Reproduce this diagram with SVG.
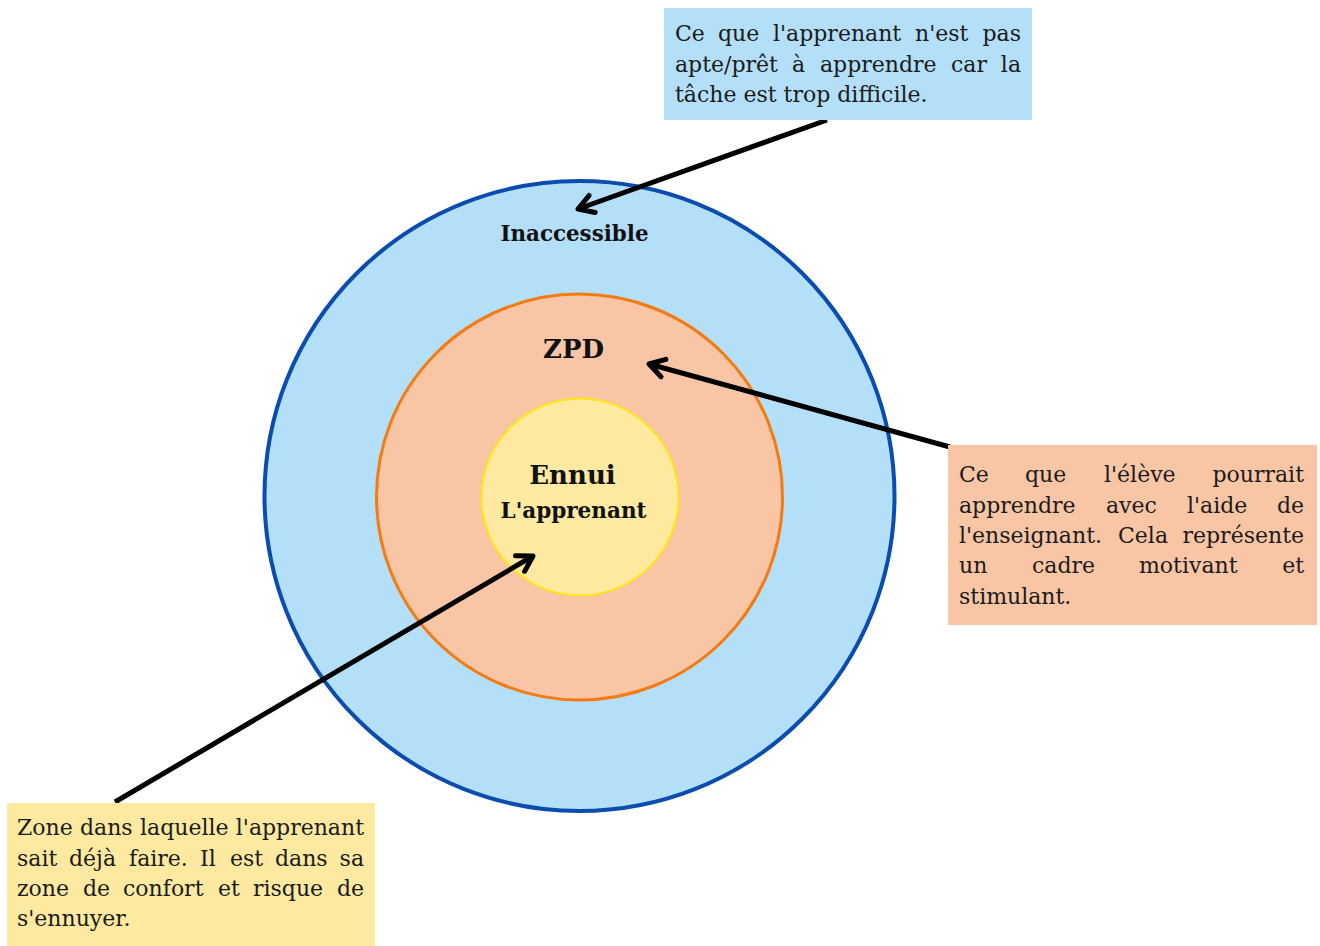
<svg xmlns="http://www.w3.org/2000/svg" width="1320" height="946" viewBox="0 0 1320 946">
<defs>
<style>
.body{font-family:"DejaVu Serif","Liberation Serif",serif;font-size:22px;fill:#1b1b1b}
.end{text-anchor:end}
.lbl{font-family:"DejaVu Serif","Liberation Serif",serif;font-weight:bold;fill:#111;text-anchor:middle}
.conn{stroke:#000;stroke-width:5;fill:none;marker-end:url(#chev)}
</style>
<marker id="chev" viewBox="-22 -14 28 28" refX="0" refY="0" markerWidth="28" markerHeight="28" markerUnits="userSpaceOnUse" orient="auto">
<path d="M-15,-9 L0,0 L-15,9" fill="none" stroke="#000" stroke-width="5" stroke-linecap="round" stroke-linejoin="round"/>
</marker>
</defs>
<rect width="1320" height="946" fill="#ffffff"/>

<g id="inaccessible">
<circle cx="579.5" cy="496" r="315" fill="#b3dff8" stroke="#0a4dae" stroke-width="4"/>
<text class="lbl" x="574.5" y="241" font-size="22" textLength="148" lengthAdjust="spacingAndGlyphs">Inaccessible</text>
</g>
<g id="zpd">
<circle cx="579.5" cy="497" r="203" fill="#f8c5a5" stroke="#f57a12" stroke-width="3"/>
<text class="lbl" x="573.5" y="358" font-size="26">ZPD</text>
</g>
<g id="ennui">
<circle cx="580" cy="497" r="98.5" fill="#fde9a0" stroke="#fbe80f" stroke-width="2"/>
<text class="lbl" x="572.5" y="484" font-size="26">Ennui</text>
<text class="lbl" x="573.5" y="518" font-size="22" textLength="146" lengthAdjust="spacingAndGlyphs">L'apprenant</text>
</g>

<g id="connectors">
<line class="conn" x1="827" y1="120" x2="578" y2="209"/>
<line class="conn" x1="950" y1="447" x2="649" y2="364"/>
<line class="conn" x1="115" y1="802" x2="533" y2="556"/>
</g>

<g id="note-inaccessible">
<rect x="664" y="8" width="368" height="112" fill="#b3dff8"/>
<text class="body" y="41"><tspan x="675">Ce</tspan><tspan x="718">que</tspan><tspan x="773">l'apprenant</tspan><tspan x="915">n'est</tspan></text>
<text class="body end" x="1021" y="41">pas</text>
<text class="body" y="72"><tspan x="675">apte/prêt</tspan><tspan x="792">à</tspan><tspan x="820">apprendre</tspan><tspan x="951">car</tspan></text>
<text class="body end" x="1021" y="72">la</text>
<text class="body" x="675" y="102">tâche est trop difficile.</text>
</g>

<g id="note-zpd">
<rect x="948" y="445" width="369" height="180" fill="#f8c5a5"/>
<text class="body" y="482"><tspan x="959">Ce</tspan><tspan x="1025">que</tspan><tspan x="1104">l'élève</tspan></text>
<text class="body end" x="1304" y="482">pourrait</text>
<text class="body" y="513"><tspan x="959">apprendre</tspan><tspan x="1106">avec</tspan><tspan x="1187">l'aide</tspan></text>
<text class="body end" x="1304" y="513">de</text>
<text class="body" y="543"><tspan x="959">l'enseignant.</tspan><tspan x="1118">Cela</tspan></text>
<text class="body end" x="1304" y="543">représente</text>
<text class="body" y="573"><tspan x="959">un</tspan><tspan x="1032">cadre</tspan><tspan x="1139">motivant</tspan></text>
<text class="body end" x="1304" y="573">et</text>
<text class="body" x="959" y="604">stimulant.</text>
</g>

<g id="note-ennui">
<rect x="7" y="803" width="368" height="143" fill="#fde9a0"/>
<text class="body" y="835"><tspan x="17">Zone</tspan><tspan x="80">dans</tspan><tspan x="140">laquelle</tspan></text>
<text class="body end" x="364" y="835">l'apprenant</text>
<text class="body" y="866"><tspan x="17">sait</tspan><tspan x="69">déjà</tspan><tspan x="129">faire.</tspan><tspan x="200">Il</tspan><tspan x="230">est</tspan><tspan x="275">dans</tspan></text>
<text class="body end" x="364" y="866">sa</text>
<text class="body" y="896"><tspan x="17">zone</tspan><tspan x="83">de</tspan><tspan x="123">confort</tspan><tspan x="218">et</tspan><tspan x="253">risque</tspan></text>
<text class="body end" x="364" y="896">de</text>
<text class="body" x="17" y="926">s'ennuyer.</text>
</g>
</svg>
